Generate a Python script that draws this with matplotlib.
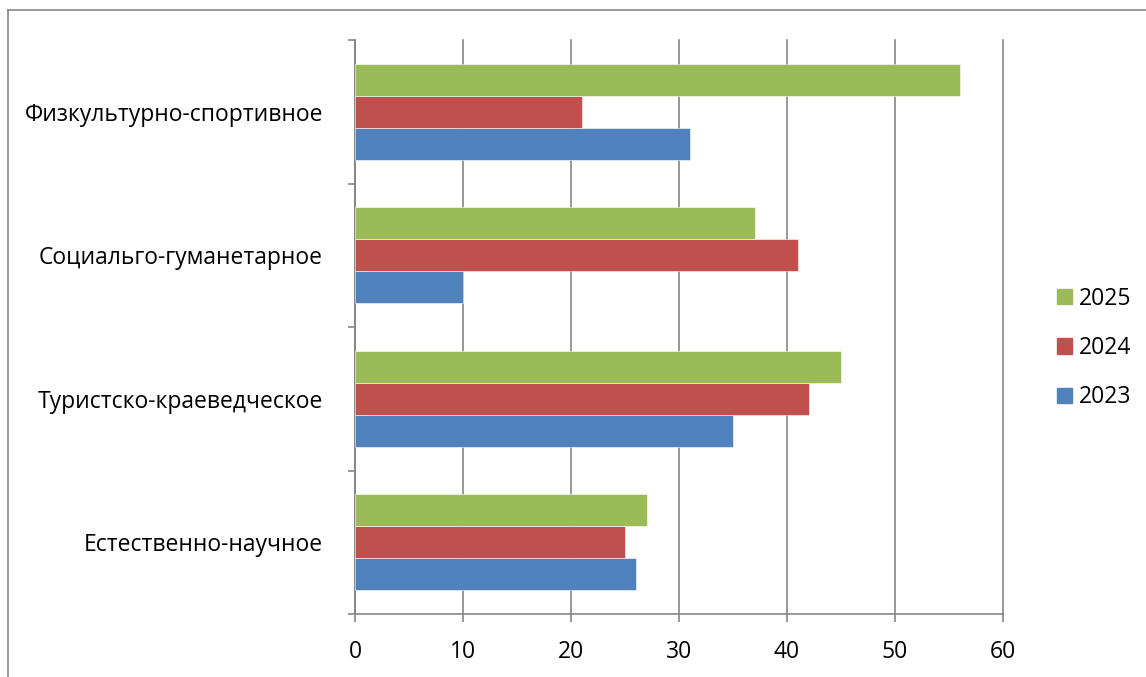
import matplotlib
matplotlib.use("Agg")
import matplotlib.pyplot as plt
from matplotlib.lines import Line2D
from matplotlib.patches import Patch
import numpy as np

plt.rcParams['font.family'] = ['Open Sans', 'DejaVu Sans']

categories = ["Естественно-научное", "Туристско-краеведческое",
              "Социальго-гуманетарное", "Физкультурно-спортивное"]
years = ["2023", "2024", "2025"]
v2023 = [26, 35, 10, 31]
v2024 = [25, 42, 41, 21]
v2025 = [27, 45, 37, 56]
colors = {"2023": "#4F81BD", "2024": "#C0504D", "2025": "#9BBB59"}

fs = 16.5
fig = plt.figure(figsize=(11.46, 6.77), dpi=100)
ax = fig.add_axes([355/1146, 1-614/677, (1003-355)/1146, (614-40)/677])

y = np.arange(len(categories))
h = 0.223
for off, yr, vals in [(-h, "2023", v2023), (0, "2024", v2024), (h, "2025", v2025)]:
    ax.barh(y + off, vals, height=h, color=colors[yr], edgecolor="white",
            linewidth=0.4, zorder=3)

ax.set_xlim(0, 60)
ax.set_ylim(-0.5, len(categories) - 0.5)
ax.set_xticks(range(0, 61, 10))
ax.set_yticks(np.arange(-0.5, len(categories), 1.0))
ax.set_yticklabels([])
ax.set_yticks(y, minor=True)
ax.set_yticklabels(categories, minor=True, fontsize=fs)
ax.tick_params(axis="y", which="minor", length=0, pad=23)
ax.tick_params(axis="y", which="major", length=5, width=1.2, color="#868686")
ax.tick_params(axis="x", length=6, width=1.2, color="#868686", labelsize=fs, pad=13)

ax.grid(axis="x", color="#868686", linewidth=1.2, zorder=0)
for gl in ax.get_xgridlines():
    gl.set_clip_on(False)
for s in ["top", "right"]:
    ax.spines[s].set_visible(False)
for s in ["left", "bottom"]:
    ax.spines[s].set_color("#868686")
    ax.spines[s].set_linewidth(1.2)

handles = [Patch(color=colors[yr]) for yr in ["2025", "2024", "2023"]]
fig.legend(handles, ["2025", "2024", "2023"], loc="center left",
           bbox_to_anchor=(1046/1146, 1-348/677), frameon=False,
           fontsize=fs, handlelength=0.65, handleheight=0.65,
           labelspacing=1.1, handletextpad=0.3, borderpad=0)

fig.add_artist(Line2D([8/1146, 1], [1-10/677, 1-10/677], color="#868686", linewidth=1.2))
fig.add_artist(Line2D([8/1146, 8/1146], [0, 1-10/677], color="#868686", linewidth=1.2))

fig.savefig("out.png", dpi=100)
